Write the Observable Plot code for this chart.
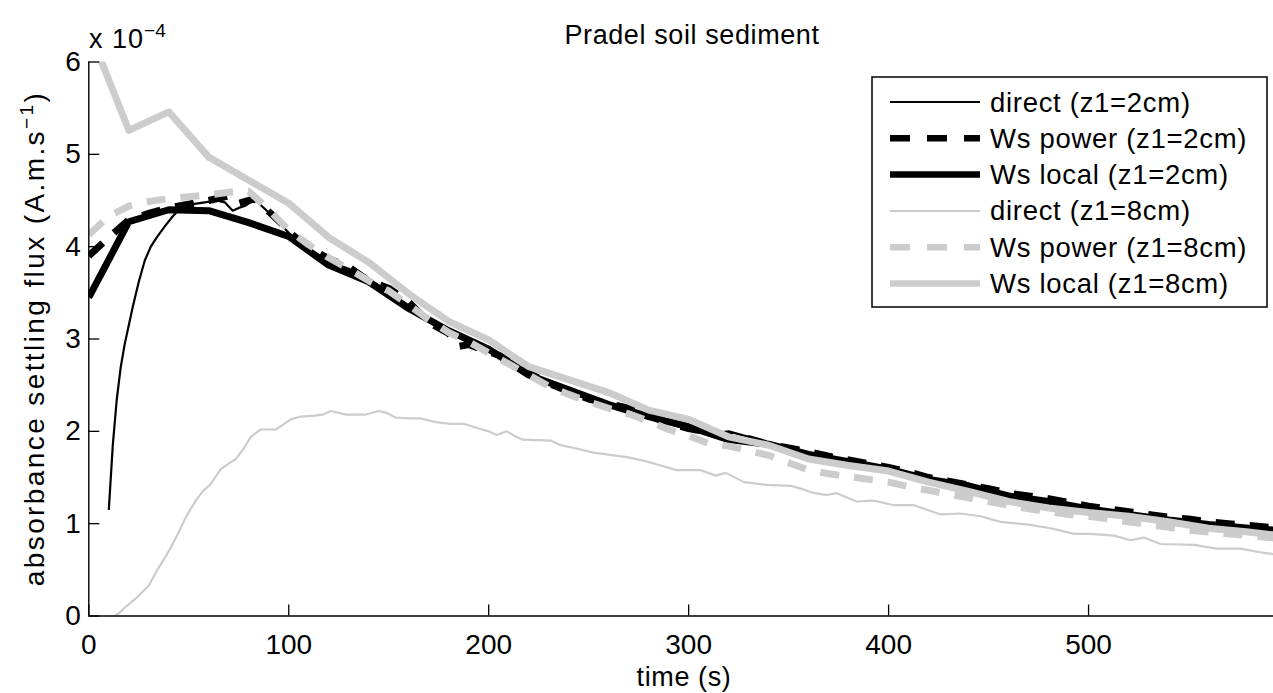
<!DOCTYPE html>
<html><head><meta charset="utf-8">
<script src="https://cdn.jsdelivr.net/npm/d3@7"></script>
<script src="https://cdn.jsdelivr.net/npm/@observablehq/plot@0.6"></script>
<style>
html,body{margin:0;padding:0;background:#fff;}
#chart{position:relative;width:1273px;height:693px;overflow:hidden;}
svg text{font-family:"Liberation Sans",Arial,Helvetica,sans-serif;}
</style></head><body><div id="chart"></div>
<script>
// ---- data (values in units of 1e-4 A.m.s^-1) ----
const xTicks = [0, 100, 200, 300, 400, 500];
const yTicks = [0, 1, 2, 3, 4, 5, 6];

const seriesLabels = ["direct (z1=2cm)", "Ws power (z1=2cm)", "Ws local (z1=2cm)",
                      "direct (z1=8cm)", "Ws power (z1=8cm)", "Ws local (z1=8cm)"];

const tDirect2 = [10,12,14,16,18,20,22,25,28,31,34,38,42,46,52,58,64,68,72,75,78,83,90,96,
  100,110,120,130,140,150,160,170,180,190,200,210,220,230,240,250,260,270,280,290,300,310,320,330,340,350,360,370,380,390,400,410,420,430,440,450,460,470,480,490,500,510,520,530,540,550,560,570,580,590,600];
const vDirect2 = [1.15,1.85,2.35,2.70,2.95,3.15,3.35,3.62,3.85,4.00,4.10,4.22,4.33,4.42,4.46,4.48,4.50,4.48,4.39,4.42,4.44,4.51,4.37,4.24,
  4.15,3.98,3.84,3.76,3.64,3.52,3.36,3.19,3.07,2.96,2.88,2.76,2.63,2.54,2.46,2.39,2.31,2.23,2.15,2.08,2.02,1.97,2.00,1.94,1.87,1.82,1.76,1.71,1.66,1.63,1.59,1.54,1.48,1.44,1.40,1.35,1.30,1.26,1.23,1.20,1.17,1.14,1.11,1.08,1.05,1.02,1.00,0.97,0.95,0.93,0.91];

const tPower2 = [0,10,20,30,40,50,60,70,75,83,97,
  100,110,120,130,140,150,160,170,180,185,190,200,210,220,230,240,250,260,270,280,290,300,310,320,330,340,350,360,370,380,390,400,410,420,430,440,450,460,470,480,490,500,510,520,530,540,550,560,570,580,590,600];
const vPower2 = [3.90,4.10,4.29,4.36,4.42,4.46,4.50,4.55,4.47,4.52,4.24,
  4.16,3.99,3.87,3.78,3.63,3.55,3.40,3.18,3.06,2.92,2.94,2.86,2.79,2.63,2.52,2.43,2.35,2.30,2.25,2.17,2.09,2.03,1.99,1.95,1.92,1.86,1.82,1.78,1.73,1.69,1.65,1.61,1.56,1.50,1.46,1.42,1.38,1.33,1.30,1.27,1.23,1.19,1.16,1.13,1.10,1.07,1.05,1.02,1.00,0.98,0.96,0.94];

const tLocal2 = [0,20,40,60,80,100,120,140,160,180,200,220,240,260,280,300,320,340,360,380,400,420,440,460,480,500,520,540,560,580,600];
const vLocal2 = [3.45,4.27,4.40,4.39,4.26,4.11,3.80,3.62,3.33,3.09,2.89,2.61,2.45,2.29,2.16,2.05,1.91,1.86,1.75,1.67,1.59,1.48,1.41,1.30,1.24,1.16,1.10,1.04,0.99,0.95,0.92];

const tDirect8 = [13,15,18.5,24,30,34,38,41,45,49,53.5,57,61,66,70,73.5,77,81,86,93.5,97,101,106,113,117,121,125,129,138,145,149,153.5,160,166,173.5,181,188,195,200,204,209,213,217,231,236,242.5,252.5,269,278,286,294,306,313.5,318.5,327.7,339,351,356,363,369,374,384,392.7,402.7,412.7,426,436,446,456,470,481,492.7,501,512.7,521,527.7,536,552.7,564,576,586,596];
const vDirect8 = [0.00,0.03,0.10,0.20,0.33,0.49,0.63,0.74,0.91,1.09,1.25,1.35,1.43,1.59,1.65,1.70,1.80,1.94,2.02,2.02,2.07,2.13,2.16,2.17,2.18,2.22,2.20,2.18,2.18,2.22,2.20,2.15,2.14,2.14,2.10,2.08,2.08,2.03,2.00,1.96,2.00,1.95,1.91,1.90,1.85,1.82,1.77,1.72,1.68,1.63,1.58,1.58,1.52,1.55,1.45,1.42,1.41,1.38,1.33,1.31,1.33,1.24,1.25,1.20,1.20,1.10,1.11,1.08,1.02,0.99,0.95,0.89,0.89,0.87,0.82,0.85,0.78,0.77,0.73,0.73,0.69,0.66];

const tPower8 = [0,10,20,30,40,50,60,70,80,90,
  100,110,120,130,140,150,160,170,180,190,200,210,220,230,240,250,260,270,280,290,300,310,320,330,340,350,360,370,380,390,400,410,420,430,440,450,460,470,480,490,500,510,520,530,540,550,560,570,580,590,600];
const vPower8 = [4.13,4.33,4.44,4.49,4.52,4.54,4.56,4.59,4.60,4.40,
  4.18,4.02,3.88,3.76,3.63,3.52,3.37,3.21,3.07,2.97,2.85,2.73,2.61,2.49,2.40,2.32,2.25,2.19,2.11,2.02,1.95,1.87,1.84,1.79,1.74,1.66,1.58,1.54,1.51,1.48,1.45,1.40,1.36,1.32,1.28,1.24,1.20,1.16,1.13,1.10,1.08,1.05,1.02,0.99,0.96,0.93,0.91,0.89,0.87,0.85,0.83];

const tLocal8 = [0,20,40,60,80,100,120,140,160,180,200,220,240,260,280,300,320,340,360,380,400,420,440,460,480,500,520,540,560,580,600];
const vLocal8 = [6.35,5.26,5.46,4.97,4.72,4.47,4.10,3.83,3.49,3.19,2.99,2.70,2.56,2.42,2.23,2.13,1.94,1.85,1.70,1.63,1.57,1.45,1.35,1.24,1.17,1.12,1.08,1.02,0.95,0.91,0.86];

// ---- styles ----
const seriesColors = ["#000000", "#000000", "#000000", "#cccccc", "#cccccc", "#cccccc"];
const seriesWidths = [2.2, 7, 7, 2.2, 7, 7];
const seriesDashes = [null, "19,15", null, null, "19,15", null];

const seriesT = [tDirect2, tPower2, tLocal2, tDirect8, tPower8, tLocal8];
const seriesV = [vDirect2, vPower2, vLocal2, vDirect8, vPower8, vLocal8];

const W = 1273, H = 693, ML = 88.3, MR = 0, MT = 61.5, MB = 77.5;
const FONT = "Liberation Sans, Arial, Helvetica, sans-serif";

const lineMarks = seriesT.map((ts, k) => {
  const rows = ts.map((t, i) => ({t, v: seriesV[k][i]}));
  return Plot.line(rows, {
    x: "t", y: "v", stroke: seriesColors[k], strokeWidth: seriesWidths[k],
    strokeDasharray: seriesDashes[k] || undefined,
    strokeLinecap: "butt", strokeLinejoin: "round", clip: true
  });
});

const plot = Plot.plot({
  width: W, height: H,
  marginLeft: ML, marginRight: MR, marginTop: MT, marginBottom: MB,
  x: {domain: [0, 592.5]},
  y: {domain: [0, 6]},
  style: {fontFamily: FONT, fontSize: "28px", background: "white", color: "black", overflow: "visible"},
  marks: [
    ...lineMarks,
    Plot.ruleX([0], {stroke: "black", strokeWidth: 1.4}),
    Plot.ruleY([0], {stroke: "black", strokeWidth: 1.4}),
    Plot.tickY(yTicks, {y: d => d, stroke: "black", strokeWidth: 1.3, insetRight: W - ML - MR - 11}),
    Plot.tickX(xTicks, {x: d => d, stroke: "black", strokeWidth: 1.3, insetTop: H - MT - MB - 11}),
    Plot.axisY(yTicks, {tickSize: 0, tickPadding: 8, label: null, fontSize: 28, tickFormat: d => String(d)}),
    Plot.axisX(xTicks, {tickSize: 0, tickPadding: 18, label: null, fontSize: 28, tickFormat: d => String(d)})
  ]
});
document.getElementById("chart").appendChild(plot);

const svg = d3.select(plot);
const g = svg.append("g").attr("font-family", FONT).attr("fill", "black");

// title
g.append("text").attr("x", 692).attr("y", 44).attr("text-anchor", "middle")
  .attr("font-size", 27).attr("letter-spacing", 0.6).text("Pradel soil sediment");

// exponent note
const ex = g.append("text").attr("x", 89).attr("y", 48).attr("text-anchor", "start").attr("font-size", 27)
  .attr("letter-spacing", 1);
ex.append("tspan").text("x 10");
ex.append("tspan").attr("dy", -11).attr("font-size", 19).attr("letter-spacing", 0).text("\u22124");

// y label
const yl = g.append("text").attr("transform", "translate(44,338.5) rotate(-90)")
  .attr("text-anchor", "middle").attr("font-size", 28).attr("letter-spacing", 2.4);
yl.append("tspan").text("absorbance settling flux (A.m.s");
yl.append("tspan").attr("dy", -11).attr("font-size", 19).text("\u22121");
yl.append("tspan").attr("dy", 11).text(")");

// x label
g.append("text").attr("x", 684).attr("y", 686).attr("text-anchor", "middle")
  .attr("font-size", 27).attr("letter-spacing", 0.6).text("time (s)");

// legend
const lg = svg.append("g");
lg.append("rect").attr("x", 872).attr("y", 77).attr("width", 395).attr("height", 230)
  .attr("fill", "white").attr("stroke", "black").attr("stroke-width", 1.5);
seriesLabels.forEach((lab, k) => {
  const yy = 102 + k * 36.3;
  lg.append("line").attr("x1", 890).attr("x2", 980).attr("y1", yy).attr("y2", yy)
    .attr("stroke", seriesColors[k]).attr("stroke-width", seriesWidths[k] === 7 ? 6.5 : 2)
    .attr("stroke-dasharray", seriesDashes[k] ? "20,17" : null);
  lg.append("text").attr("x", 990).attr("y", yy + 9.5).attr("text-anchor", "start")
    .attr("font-family", FONT).attr("font-size", 27.5).attr("letter-spacing", 0.7)
    .attr("fill", "black").text(lab);
});
</script></body></html>
